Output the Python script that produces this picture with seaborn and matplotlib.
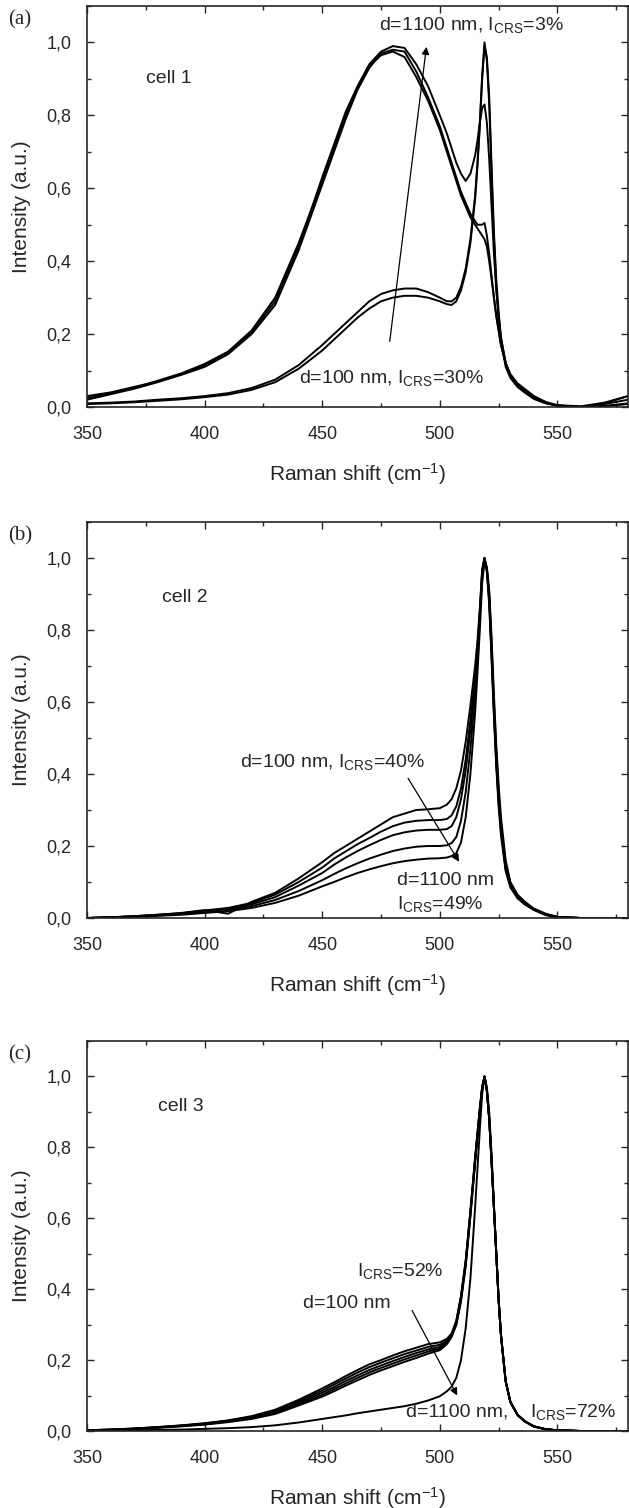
import numpy as np
import pandas as pd
import matplotlib
matplotlib.use('Agg')
import matplotlib.pyplot as plt
import seaborn as sns
from matplotlib.ticker import MultipleLocator, FuncFormatter

# Raman shift grid (cm-1), shared by every spectrum
shift = [350, 360, 370, 380, 390, 400, 410, 420, 430, 440, 450, 455, 460, 465, 470,
         475, 480, 485, 490, 495, 500, 503, 505, 507, 509, 511, 513, 515, 516, 517,
         518, 519, 520, 521, 522, 523, 524, 525, 526, 528, 530, 533, 536, 540, 545,
         550, 560, 570, 580]

# cell 1 (a)
a1 = [.03, .04, .055, .07, .09, .115, .15, .205, .29, .44, .63, .72, .81, .88, .94,
      .975, .99, .985, .94, .88, .80, .75, .71, .67, .64, .62, .64, .69, .73, .78,
      .82, .83, .78, .68, .55, .42, .32, .25, .19, .12, .085, .06, .045, .028, .012,
      .004, .0, .01, .03]
a2 = [.02, .035, .05, .068, .088, .11, .145, .20, .28, .43, .61, .70, .79, .87, .93,
      .97, .98, .975, .92, .85, .77, .71, .67, .63, .59, .56, .53, .51, .50, .50,
      .50, .505, .47, .42, .36, .30, .25, .21, .17, .12, .085, .06, .045, .028, .012,
      .004, .0, .008, .02]
a3 = [.025, .038, .052, .072, .092, .118, .152, .21, .30, .45, .62, .71, .80, .875, .935,
      .965, .975, .96, .905, .84, .76, .70, .66, .62, .58, .55, .52, .50, .49, .48,
      .47, .46, .44, .40, .35, .30, .25, .21, .17, .12, .09, .065, .05, .03, .014,
      .005, .002, .012, .03]
a4 = [.01, .012, .015, .02, .024, .03, .038, .052, .075, .115, .17, .20, .23, .26, .29,
      .31, .32, .325, .325, .315, .30, .29, .29, .30, .33, .38, .46, .58, .67, .78,
      .91, 1.0, .95, .83, .64, .46, .33, .24, .18, .11, .08, .055, .04, .022, .01,
      .003, .0, .003, .01]
a5 = [.008, .01, .013, .017, .021, .027, .034, .047, .068, .105, .155, .185, .215, .245, .27,
      .29, .30, .305, .305, .30, .29, .282, .28, .29, .32, .37, .45, .57, .66, .77,
      .90, .99, .96, .85, .66, .48, .35, .26, .19, .12, .085, .06, .042, .024, .011,
      .004, .0, .002, .008]

# cell 2 (b)
b1 = [.0, .002, .005, .009, .014, .022, .012, .045, .07, .11, .155, .18, .20, .22, .24,
      .26, .28, .29, .30, .302, .305, .315, .33, .36, .41, .49, .59, .70, .77, .86,
      .97, 1.0, .96, .87, .72, .56, .42, .31, .23, .13, .085, .055, .038, .022, .008,
      .002, .0, .0, .0]
b2 = [.0, .002, .005, .009, .013, .021, .028, .042, .065, .10, .14, .165, .185, .205, .222,
      .24, .255, .265, .27, .272, .272, .275, .285, .31, .36, .44, .55, .67, .75, .85,
      .96, 1.0, .965, .88, .73, .57, .43, .32, .24, .135, .09, .058, .04, .023, .009,
      .002, .0, .0, .0]
b3 = [.0, .002, .004, .008, .012, .019, .026, .038, .058, .09, .125, .148, .168, .186, .202,
      .217, .23, .238, .243, .245, .245, .247, .255, .28, .33, .41, .52, .65, .74, .84,
      .96, 1.0, .97, .89, .74, .58, .44, .33, .25, .14, .092, .06, .042, .024, .01,
      .003, .0, .0, .0]
b4 = [.0, .002, .004, .007, .011, .017, .023, .033, .05, .075, .105, .122, .138, .152, .165,
      .176, .186, .193, .198, .20, .20, .202, .208, .225, .27, .35, .47, .62, .72, .83,
      .95, 1.0, .97, .90, .76, .60, .46, .35, .26, .15, .095, .062, .044, .025, .011,
      .003, .0, .0, .0]
b5 = [.0, .001, .003, .006, .009, .014, .019, .028, .042, .062, .088, .10, .113, .125, .135,
      .144, .152, .158, .162, .165, .166, .168, .172, .18, .21, .28, .40, .57, .68, .80,
      .93, .99, .975, .91, .78, .62, .48, .37, .28, .16, .10, .065, .046, .026, .012,
      .003, .0, .0, .0]

# cell 3 (c)
c1 = [.002, .004, .007, .011, .016, .022, .03, .042, .06, .088, .12, .137, .155, .172, .188,
      .20, .213, .225, .235, .245, .25, .26, .275, .31, .38, .48, .62, .77, .84, .91,
      .97, 1.0, .96, .88, .76, .63, .50, .37, .27, .14, .082, .046, .028, .013, .005,
      .002, .0, .0, .0]
c2 = [.002, .004, .007, .011, .015, .021, .029, .04, .057, .084, .114, .131, .148, .165, .18,
      .193, .205, .217, .227, .237, .243, .256, .272, .31, .38, .48, .62, .77, .84, .91,
      .97, 1.0, .96, .88, .76, .63, .50, .37, .27, .14, .082, .046, .028, .013, .005,
      .002, .0, .0, .0]
c3 = [.002, .004, .006, .01, .015, .02, .028, .038, .054, .08, .108, .124, .141, .157, .172,
      .185, .197, .209, .22, .23, .237, .252, .27, .305, .375, .475, .615, .765, .835, .905,
      .97, 1.0, .96, .88, .76, .63, .50, .37, .27, .14, .082, .046, .028, .013, .005,
      .002, .0, .0, .0]
c4 = [.002, .003, .006, .01, .014, .019, .027, .036, .051, .076, .102, .118, .134, .15, .165,
      .178, .19, .202, .213, .224, .232, .248, .268, .30, .37, .47, .61, .76, .83, .90,
      .965, 1.0, .96, .88, .76, .63, .50, .37, .27, .14, .082, .046, .028, .013, .005,
      .002, .0, .0, .0]
c5 = [.002, .003, .006, .009, .013, .018, .025, .034, .048, .072, .097, .112, .128, .143, .158,
      .171, .183, .195, .206, .218, .228, .245, .265, .30, .365, .465, .605, .755, .83, .90,
      .965, 1.0, .96, .88, .76, .63, .50, .37, .27, .14, .082, .046, .028, .013, .005,
      .002, .0, .0, .0]
c6 = [.0, .001, .002, .003, .004, .006, .008, .011, .016, .024, .034, .039, .044, .05, .055,
      .06, .065, .07, .077, .086, .098, .112, .125, .15, .20, .29, .43, .63, .74, .85,
      .95, 1.0, .97, .90, .78, .64, .50, .37, .27, .14, .08, .045, .027, .012, .005,
      .002, .0, .0, .0]

cells = {'a': [a1, a2, a3, a4, a5],
         'b': [b1, b2, b3, b4, b5],
         'c': [c1, c2, c3, c4, c5, c6]}
cell_names = ['cell 1', 'cell 2', 'cell 3']
panel_tags = ['(a)', '(b)', '(c)']

sns.set_style('ticks')
plt.rcParams['font.family'] = ['Liberation Sans', 'DejaVu Sans']
plt.rcParams['mathtext.default'] = 'regular'

W, H = 629, 1508
fig = plt.figure(figsize=(W / 100, H / 100), dpi=100)

# panel frames in pixels: (top, bottom)
frames = [(6, 407), (522, 918), (1041, 1431)]
left, right = 87, 628

comma = FuncFormatter(lambda v, _: f'{v:.1f}'.replace('.', ','))
axes = []
for i, (key, (top, bottom)) in enumerate(zip(cells, frames)):
    ax = fig.add_axes([left / W, 1 - bottom / H, (right - left) / W, (bottom - top) / H])
    axes.append(ax)
    df = pd.concat([pd.DataFrame({'shift': shift, 'intensity': y, 'curve': j})
                    for j, y in enumerate(cells[key])])
    sns.lineplot(data=df, x='shift', y='intensity', units='curve', estimator=None,
                 color='black', lw=1.4, ax=ax, legend=False)
    ax.set_xlim(350, 580)
    ax.set_ylim(0, 1.1)
    ax.xaxis.set_major_locator(MultipleLocator(50))
    ax.xaxis.set_minor_locator(MultipleLocator(25))
    ax.yaxis.set_major_locator(MultipleLocator(0.2))
    ax.yaxis.set_minor_locator(MultipleLocator(0.1))
    ax.yaxis.set_major_formatter(comma)
    ax.tick_params(which='both', direction='in', top=True, right=True, width=1.0)
    ax.tick_params(which='major', length=5, labelsize=13)
    ax.tick_params(which='minor', length=3)
    ax.tick_params(axis='x', pad=14)
    ax.tick_params(axis='y', pad=11)
    for s in ax.spines.values():
        s.set_linewidth(1.2)
    h = bottom - top
    ax.set_xlabel('Raman shift (cm$^{-1}$)', fontsize=15)
    ax.set_ylabel('Intensity (a.u.)', fontsize=15)
    ax.xaxis.set_label_coords(0.5, -54 / h)
    ax.yaxis.set_label_coords((31 - left) / (right - left), 0.5)
    fig.text(8 / W, 1 - (top + 14) / H, panel_tags[i], fontsize=15,
             family='Liberation Serif', va='center', ha='left')

ta = dict(fontsize=14, va='center', ha='left')
arrow = dict(arrowstyle='-|>', color='black', lw=0.9, mutation_scale=11, shrinkA=0, shrinkB=0)

ax = axes[0]
ax.text(375, 0.9, cell_names[0], **ta)
ax.text(474, 1.047, 'd=1100 nm, I$_{CRS}$=3%', **ta)
ax.text(440, 0.08, 'd=100 nm, I$_{CRS}$=30%', **ta)
ax.annotate('', xy=(494.3, 0.988), xytext=(478.7, 0.18), arrowprops=arrow)

ax = axes[1]
ax.text(382, 0.89, cell_names[1], **ta)
ax.text(415, 0.434, 'd=100 nm, I$_{CRS}$=40%', **ta)
ax.text(482, 0.105, 'd=1100 nm', **ta)
ax.text(482, 0.04, 'I$_{CRS}$=49%', **ta)
ax.annotate('', xy=(508.2, 0.156), xytext=(486.5, 0.388), arrowprops=arrow)

ax = axes[2]
ax.text(380, 0.915, cell_names[2], **ta)
ax.text(464.6, 0.45, 'I$_{CRS}$=52%', **ta)
ax.text(442, 0.36, 'd=100 nm', **ta)
ax.text(485.6, 0.054, 'd=1100 nm,', **ta)
ax.text(538.3, 0.054, 'I$_{CRS}$=72%', **ta)
ax.annotate('', xy=(507.4, 0.1), xytext=(488.2, 0.34), arrowprops=arrow)

fig.savefig('out.png', dpi=100)
